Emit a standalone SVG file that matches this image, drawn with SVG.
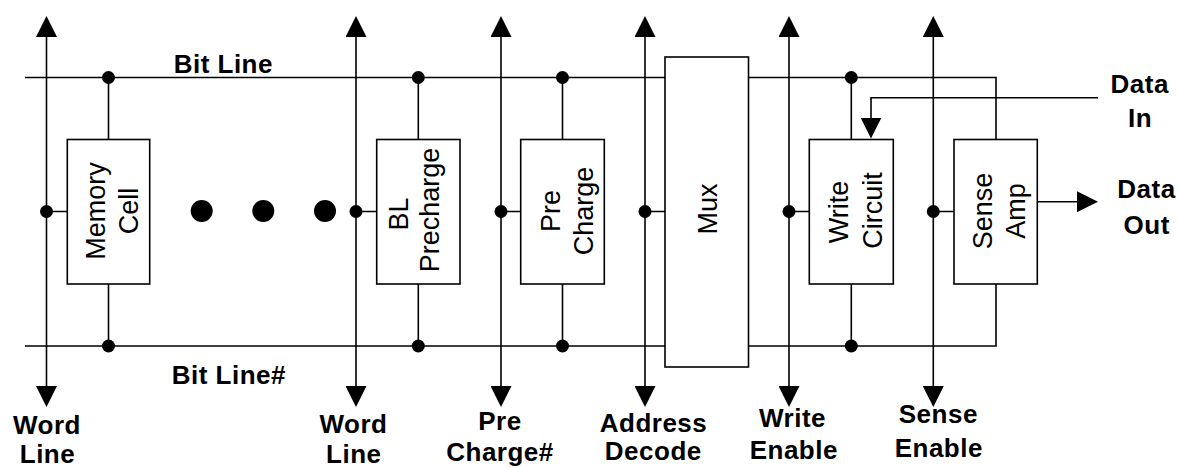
<svg xmlns="http://www.w3.org/2000/svg" width="1178" height="468" viewBox="0 0 1178 468">
<defs>
<marker id="arr" markerUnits="userSpaceOnUse" markerWidth="21" markerHeight="21" viewBox="0 0 21 21" refX="7" refY="10.5" orient="auto-start-reverse"><path d="M0,0 L21,10.5 L0,21 z" fill="#000"/></marker>
</defs>
<style>
.w{stroke:#000;stroke-width:1.6;fill:none}
.box{fill:#fff;stroke:#000;stroke-width:1.6}
.dot{fill:#000}
.lbl{font-family:"Liberation Sans",Arial,sans-serif;font-weight:bold;font-size:26px;letter-spacing:0.5px;text-anchor:middle;fill:#000}
.bt{font-family:"Liberation Sans",Arial,sans-serif;font-size:27px;text-anchor:middle;fill:#000}
</style>
<rect width="1178" height="468" fill="#fff"/>

<g id="connectors">
  <line class="w" x1="46.5" y1="30" x2="46.5" y2="393" marker-start="url(#arr)" marker-end="url(#arr)"/>
  <line class="w" x1="356" y1="30" x2="356" y2="393" marker-start="url(#arr)" marker-end="url(#arr)"/>
  <line class="w" x1="501" y1="30" x2="501" y2="393" marker-start="url(#arr)" marker-end="url(#arr)"/>
  <line class="w" x1="645" y1="30" x2="645" y2="393" marker-start="url(#arr)" marker-end="url(#arr)"/>
  <line class="w" x1="789" y1="30" x2="789" y2="393" marker-start="url(#arr)" marker-end="url(#arr)"/>
  <line class="w" x1="933.3" y1="30" x2="933.3" y2="393" marker-start="url(#arr)" marker-end="url(#arr)"/>
  <path class="w" d="M25,77.5 H665 M748.5,77.5 H996 V139.5"/>
  <path class="w" d="M25,346 H665 M748.5,346 H996 V284"/>
  <path class="w" d="M108.5,77.5 V139.5 M108.5,284 V346 M418.3,77.5 V139.5 M418.3,284 V346 M562.5,77.5 V139.5 M562.5,284 V346 M851.3,77.5 V139.5 M851.3,284 V346"/>
  <path class="w" d="M46.5,211.5 H67.3 M356,211.5 H376.7 M501,211.5 H520.7 M645,211.5 H665 M789,211.5 H809.3 M933.3,211.5 H954"/>
  <path class="w" d="M1098,97.7 H871 V124.5" marker-end="url(#arr)"/>
  <path class="w" d="M1037.3,201.7 H1084" marker-end="url(#arr)"/>
  <g class="dot">
    <circle cx="108.5" cy="77.5" r="6.5"/><circle cx="418.3" cy="77.5" r="6.5"/><circle cx="562.5" cy="77.5" r="6.5"/><circle cx="851.3" cy="77.5" r="6.5"/>
    <circle cx="108.5" cy="346" r="6.5"/><circle cx="418.3" cy="346" r="6.5"/><circle cx="562.5" cy="346" r="6.5"/><circle cx="851.3" cy="346" r="6.5"/>
    <circle cx="46.5" cy="211.5" r="6.5"/><circle cx="356" cy="211.5" r="6.5"/><circle cx="501" cy="211.5" r="6.5"/><circle cx="645" cy="211.5" r="6.5"/><circle cx="789" cy="211.5" r="6.5"/><circle cx="933.3" cy="211.5" r="6.5"/>
    <circle cx="201.7" cy="211" r="11"/><circle cx="263.3" cy="211" r="11"/><circle cx="325" cy="211" r="11"/>
  </g>
</g>

<g id="memory-cell">
  <rect class="box" x="67.3" y="139.5" width="82.4" height="144.5"/>
  <g transform="translate(108.5,211) rotate(-90)"><text class="bt" x="0" y="-3.5">Memory</text><text class="bt" x="0" y="29.8">Cell</text></g>
</g>
<g id="bl-precharge">
  <rect class="box" x="376.7" y="139.5" width="83.3" height="144.5"/>
  <g transform="translate(418.3,211) rotate(-90)"><text class="bt" x="-3" y="-10">BL</text><text class="bt" x="1" y="21">Precharge</text></g>
</g>
<g id="pre-charge">
  <rect class="box" x="520.7" y="139.5" width="83.6" height="144.5"/>
  <g transform="translate(562.5,211) rotate(-90)"><text class="bt" x="0" y="-2.5">Pre</text><text class="bt" x="0" y="30.5">Charge</text></g>
</g>
<g id="mux">
  <rect class="box" x="665" y="57" width="83.5" height="310"/>
  <g transform="translate(707,209) rotate(-90)"><text class="bt" x="0" y="10">Mux</text></g>
</g>
<g id="write-circuit">
  <rect class="box" x="809.3" y="139.5" width="84" height="144.5"/>
  <g transform="translate(851.3,211) rotate(-90)"><text class="bt" x="-1" y="-3">Write</text><text class="bt" x="0.5" y="30.4">Circuit</text></g>
</g>
<g id="sense-amp">
  <rect class="box" x="954" y="139.5" width="83.3" height="144.5"/>
  <g transform="translate(995.7,211) rotate(-90)"><text class="bt" x="0" y="-4">Sense</text><text class="bt" x="0" y="29.3">Amp</text></g>
</g>

<g id="labels">
  <text class="lbl" x="223.3" y="72.7">Bit Line</text>
  <text class="lbl" x="171.7" y="384" style="text-anchor:start">Bit Line#</text>
  <text class="lbl" x="47" y="434">Word</text><text class="lbl" x="47.5" y="463">Line</text>
  <text class="lbl" x="353.5" y="432.7">Word</text><text class="lbl" x="353.8" y="463">Line</text>
  <text class="lbl" x="500" y="430">Pre</text><text class="lbl" x="500" y="461">Charge#</text>
  <text class="lbl" x="653.5" y="432">Address</text><text class="lbl" x="653.3" y="460">Decode</text>
  <text class="lbl" x="792.5" y="426.7">Write</text><text class="lbl" x="793.8" y="459">Enable</text>
  <text class="lbl" x="938.3" y="423.3">Sense</text><text class="lbl" x="938.8" y="456.7">Enable</text>
  <text class="lbl" x="1139.7" y="93">Data</text><text class="lbl" x="1140" y="126.7">In</text>
  <text class="lbl" x="1146.5" y="197.5">Data</text><text class="lbl" x="1146.7" y="234">Out</text>
</g>
</svg>
